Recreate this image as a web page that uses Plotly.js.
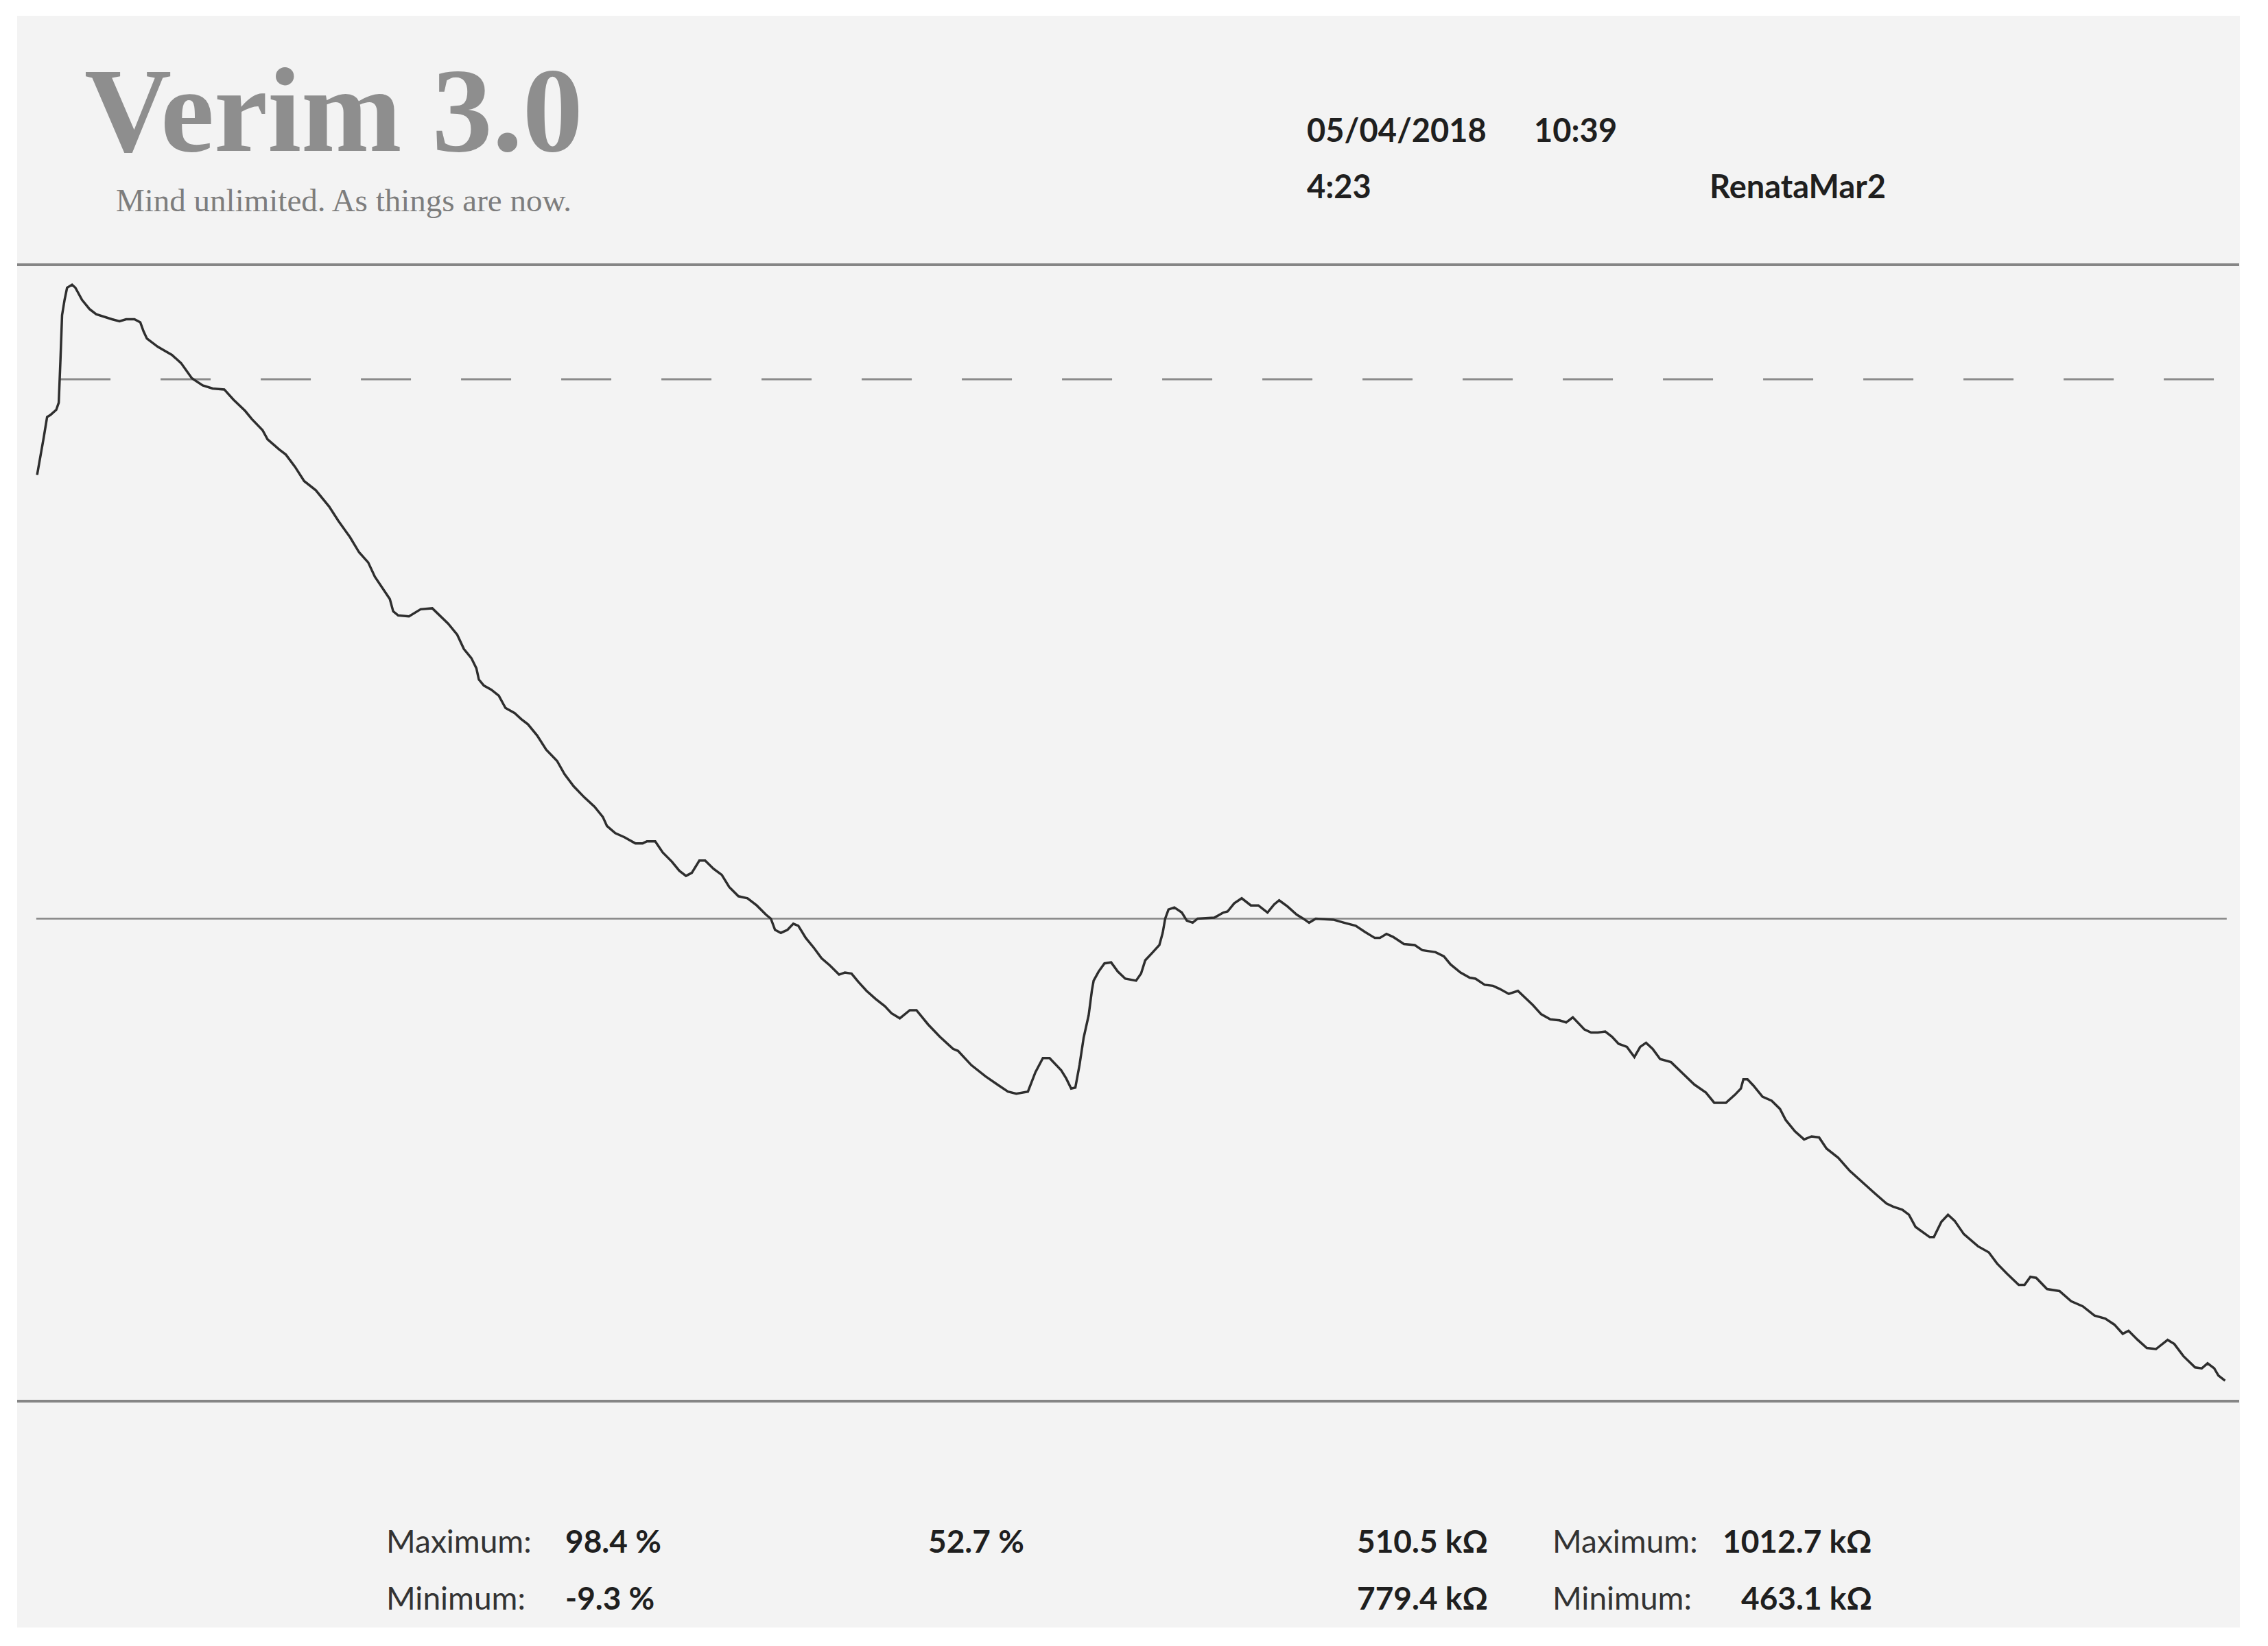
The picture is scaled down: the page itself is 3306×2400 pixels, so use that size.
<!DOCTYPE html>
<html>
<head>
<meta charset="utf-8">
<script src="https://cdn.plot.ly/plotly-3.0.1.min.js"></script>
<style>
  html, body { margin: 0; padding: 0; background: #ffffff; }
  #chart { width: 3306px; height: 2400px; }
</style>
</head>
<body>
<div id="chart"></div>
<script>
// Time since start of session (s) and the traced signal (%)
const timeSec = [
  0.0, 0.4, 0.8, 1.2, 1.6, 2.3, 2.6, 2.8, 3.0, 3.3, 3.6, 4.2, 4.6, 5.4, 6.3, 7.1, 8.2, 9.0, 9.9, 10.7,
  11.7, 12.4, 12.8, 13.2, 14.5, 15.7, 16.2, 17.3, 18.6, 19.9, 21.1, 22.5, 23.6, 25.0, 25.8, 27.1, 27.7, 29.1, 29.9, 31.0,
  32.1, 33.5, 35.1, 36.2, 37.6, 38.7, 39.8, 40.6, 41.7, 42.4, 42.8, 43.4, 44.7, 45.3, 46.1, 47.5, 48.3, 49.4, 50.5, 51.3,
  52.2, 52.8, 53.1, 53.7, 54.6, 55.5, 56.3, 57.4, 58.2, 59.0, 60.1, 61.2, 62.5, 63.4, 64.5, 65.8, 67.0, 68.0, 68.5, 69.5,
  70.6, 71.9, 72.8, 73.3, 74.3, 75.2, 76.3, 77.2, 78.0, 78.7, 79.6, 80.3, 81.3, 82.3, 83.2, 84.3, 85.4, 86.5, 87.6, 88.2,
  88.7, 89.4, 90.2, 90.9, 91.5, 92.4, 93.4, 94.3, 95.3, 96.4, 97.1, 97.9, 98.7, 99.7, 100.8, 101.9, 102.7, 103.7, 104.9, 105.7,
  107.1, 108.5, 110.1, 110.7, 112.3, 114.0, 115.6, 116.7, 117.7, 119.1, 120.0, 120.9, 121.7, 123.1, 123.7, 124.3, 124.8, 125.3, 125.8, 126.4,
  126.8, 127.0, 127.6, 128.3, 129.1, 129.9, 130.8, 132.1, 132.7, 133.2, 134.0, 134.9, 135.3, 135.6, 136.0, 136.7, 137.6, 138.2, 138.9, 139.5,
  141.5, 142.6, 143.1, 143.9, 144.8, 145.9, 146.8, 147.9, 148.7, 149.3, 150.3, 151.4, 152.2, 152.9, 153.7, 155.8, 157.1, 158.5, 159.6, 160.8,
  161.4, 162.2, 163.0, 164.3, 165.6, 166.5, 168.1, 169.1, 169.9, 171.1, 172.2, 172.9, 174.0, 175.0, 175.8, 176.9, 178.0, 178.8, 179.8, 180.8,
  181.9, 183.0, 183.8, 184.6, 185.3, 186.0, 186.8, 187.6, 188.5, 189.3, 190.1, 191.1, 192.0, 192.7, 193.4, 194.2, 195.1, 196.4, 197.8, 199.2,
  200.6, 201.6, 203.0, 204.1, 204.8, 205.1, 205.6, 206.3, 207.4, 208.5, 209.5, 210.2, 211.3, 212.4, 213.3, 214.2, 215.1, 216.5, 217.9, 219.5,
  220.9, 222.3, 223.1, 224.2, 225.0, 225.8, 226.7, 227.5, 228.0, 228.9, 229.7, 230.5, 231.6, 233.3, 234.6, 235.6, 236.8, 238.2, 238.9, 239.6,
  240.3, 241.6, 243.1, 244.5, 245.9, 247.3, 248.6, 249.7, 250.7, 251.4, 252.5, 253.6, 254.7, 256.1, 256.9, 258.0, 259.4, 260.2, 260.9, 261.7,
  262.2, 263.0
];
const signalPct = [
  79.7, 81.4, 83.4, 85.4, 85.6, 86.1, 86.8, 90.9, 95.4, 96.9, 98.1, 98.4, 98.1, 96.9, 96.0, 95.5, 95.2, 95.0, 94.8, 95.0,
  95.0, 94.7, 93.8, 93.1, 92.3, 91.7, 91.5, 90.7, 89.2, 88.5, 88.2, 88.1, 87.1, 86.0, 85.2, 84.1, 83.2, 82.2, 81.7, 80.5,
  79.1, 78.2, 76.6, 75.2, 73.6, 72.1, 71.1, 69.7, 68.3, 67.5, 66.3, 65.9, 65.8, 66.1, 66.5, 66.6, 66.0, 65.1, 64.0, 62.6,
  61.7, 60.7, 59.6, 59.0, 58.6, 58.0, 56.8, 56.3, 55.7, 55.2, 54.1, 52.7, 51.6, 50.3, 49.1, 48.0, 47.1, 46.1, 45.2, 44.5,
  44.1, 43.5, 43.5, 43.7, 43.7, 42.6, 41.7, 40.8, 40.3, 40.6, 41.8, 41.8, 41.0, 40.4, 39.2, 38.3, 38.1, 37.4, 36.5, 36.1,
  35.0, 34.7, 35.0, 35.6, 35.4, 34.2, 33.2, 32.2, 31.5, 30.6, 30.8, 30.7, 29.9, 29.0, 28.2, 27.5, 26.8, 26.3, 27.1, 27.1,
  25.7, 24.5, 23.3, 23.1, 21.7, 20.6, 19.7, 19.1, 18.9, 19.1, 21.0, 22.4, 22.4, 21.2, 20.4, 19.4, 19.5, 21.7, 24.4, 26.6,
  29.1, 30.0, 30.9, 31.7, 31.8, 30.9, 30.2, 30.0, 30.7, 32.0, 32.7, 33.5, 34.7, 36.1, 37.0, 37.2, 36.7, 35.9, 35.7, 36.1,
  36.2, 36.7, 36.8, 37.6, 38.1, 37.4, 37.4, 36.7, 37.5, 37.9, 37.3, 36.5, 36.1, 35.7, 36.1, 36.0, 35.7, 35.4, 34.8, 34.2,
  34.2, 34.6, 34.3, 33.6, 33.5, 33.0, 32.8, 32.4, 31.6, 30.8, 30.3, 30.2, 29.6, 29.5, 29.2, 28.7, 29.0, 28.4, 27.6, 26.7,
  26.2, 26.1, 25.9, 26.4, 25.8, 25.2, 24.9, 24.9, 25.0, 24.5, 23.8, 23.5, 22.5, 23.5, 23.9, 23.3, 22.3, 22.0, 20.9, 19.8,
  19.0, 18.0, 18.0, 18.8, 19.4, 20.3, 20.3, 19.7, 18.6, 18.2, 17.4, 16.3, 15.2, 14.4, 14.7, 14.6, 13.5, 12.6, 11.3, 10.1,
  9.1, 8.1, 7.8, 7.5, 7.0, 5.8, 5.3, 4.8, 4.8, 6.3, 7.0, 6.4, 5.1, 3.9, 3.3, 2.2, 1.2, 0.1, 0.1, 0.9,
  0.8, -0.3, -0.5, -1.5, -2.0, -2.9, -3.2, -3.8, -4.7, -4.4, -5.3, -6.1, -6.2, -5.3, -5.7, -6.9, -8.0, -8.1, -7.6, -8.1,
  -8.8, -9.3
];

// reference levels on the printout (%)
const midLevel = 36.1;
const dashLevel = 89.1;

// header / footer texts
const brandTitle = 'Verim 3.0';
const brandTagline = 'Mind unlimited. As things are now.';
const sessionDate = '05/04/2018';
const sessionTime = '10:39';
const sessionDuration = '4:23';
const sessionName = 'RenataMar2';
const statLabels = ['Maximum:', 'Minimum:'];
const pctStats = ['98.4 %', '-9.3 %'];
const pctMean = '52.7 %';
const kohmStats = ['510.5 kΩ', '779.4 kΩ'];
const kohmExtremes = ['1012.7 kΩ', '463.1 kΩ'];

const sans = 'Lato, "DejaVu Sans", sans-serif';
const serif = '"Liberation Serif", serif';
const ink = '#1f1f1f';

const trace = {
    x: timeSec,
    y: signalPct,
    type: 'scatter',
    mode: 'lines',
    line: { color: '#2e2e2e', width: 3.5 },
    hoverinfo: 'skip',
    showlegend: false
};

function note(text, x, y, opts) {
    return Object.assign({
        text: text,
        xref: 'paper', yref: 'paper',
        x: x, y: y,
        xanchor: 'left', yanchor: 'middle',
        showarrow: false,
        borderpad: 0,
        font: { family: sans, size: 46, color: ink }
    }, opts || {});
}

const rowY = [-0.1231, -0.1732];
const headFont = { family: sans, size: 47, color: ink };
const labelFont = { family: sans, size: 46, color: '#333333' };
const annotations = [
    // logo block: title sits right on top of the tagline
    note(brandTitle, 0.0300, 1.0766, {
        yanchor: 'bottom',
        font: { family: serif, size: 176, color: '#8e8e8e', weight: 'bold' }
    }),
    note(brandTagline, 0.0441, 1.0730, {
        yanchor: 'top',
        font: { family: serif, size: 47, color: '#7d7d7d' }
    }),
    note('<b>' + sessionDate + '</b>', 0.5801, 1.1189, { font: headFont }),
    note('<b>' + sessionTime + '</b>', 0.6823, 1.1189, { font: headFont }),
    note('<b>' + sessionDuration + '</b>', 0.5801, 1.0694, { font: headFont }),
    note('<b>' + sessionName + '</b>', 0.7613, 1.0694, { font: headFont }),
    note('<b>' + pctMean + '</b>', 0.4097, rowY[0])
];
for (let i = 0; i < 2; i++) {
    annotations.push(note(statLabels[i], 0.1658, rowY[i], { font: labelFont }));
    annotations.push(note('<b>' + pctStats[i] + '</b>', 0.2464, rowY[i]));
    annotations.push(note('<b>' + kohmStats[i] + '</b>', 0.6622, rowY[i], { xanchor: 'right' }));
    annotations.push(note(statLabels[i], 0.6906, rowY[i], { font: labelFont }));
    annotations.push(note('<b>' + kohmExtremes[i] + '</b>', 0.8351, rowY[i], { xanchor: 'right' }));
}

const shapes = [
    // scanned paper
    { type: 'rect', xref: 'paper', yref: 'paper', x0: 0, x1: 1.0003, y0: -0.1992, y1: 1.2191,
      fillcolor: '#f3f3f3', line: { width: 0 }, layer: 'below' },
    // frame lines
    { type: 'line', xref: 'paper', yref: 'paper', x0: 0, x1: 1, y0: 1, y1: 1,
      line: { color: '#858585', width: 4 } },
    { type: 'line', xref: 'paper', yref: 'paper', x0: 0, x1: 1, y0: 0, y1: 0,
      line: { color: '#858585', width: 4 } },
    // reference levels
    { type: 'line', xref: 'x', yref: 'y', x0: -0.1, x1: 263.2, y0: midLevel, y1: midLevel,
      line: { color: '#858585', width: 2.5 }, layer: 'below' },
    { type: 'line', xref: 'x', yref: 'y', x0: 2.8, x1: 263.2, y0: dashLevel, y1: dashLevel,
      line: { color: '#8a8a8a', width: 3, dash: '73px,73px' }, layer: 'below' }
];

const layout = {
    width: 3306,
    height: 2400,
    margin: { l: 25, r: 42, t: 386, b: 357 },
    paper_bgcolor: '#ffffff',
    plot_bgcolor: 'rgba(0,0,0,0)',
    xaxis: { range: [-2.4, 264.7], visible: false, fixedrange: true },
    yaxis: { range: [-11.32, 100.36], visible: false, fixedrange: true },
    shapes: shapes,
    annotations: annotations,
    showlegend: false
};

Plotly.newPlot('chart', [trace], layout, { displayModeBar: false, staticPlot: true });
</script>
</body>
</html>
